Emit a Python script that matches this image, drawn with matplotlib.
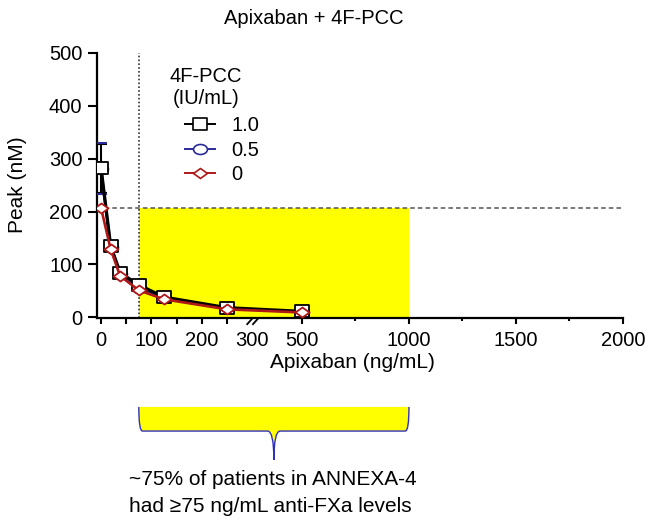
import numpy as np
import matplotlib
matplotlib.use("Agg")
import matplotlib.pyplot as plt
from matplotlib.path import Path
from matplotlib.patches import PathPatch
from matplotlib.lines import Line2D
from matplotlib.transforms import Affine2D

plt.rcParams['font.family'] = ['Liberation Sans', 'DejaVu Sans']

# data
apixaban = [0, 19, 38, 75, 125, 250, 500]
peak_pcc10 = [282, 135, 84, 61, 38, 18, 11]
peak_pcc05 = [281, 133, 82, 55, 36, 17, 10]
peak_pcc0 = [207, 129, 78, 51, 34, 15, 9]
sd_pcc10 = [46]
sd_pcc05 = [48]

pcc_labels = ['1.0', '0.5', '0']
threshold_peak = 206
annexa_low, annexa_high = 75, 1000

xtick_pos = [0, 50, 100, 150, 200, 250, 300, 500, 1000, 1500, 2000]
xtick_lab = ['0', '', '100', '', '200', '', '300', '500', '1000', '1500', '2000']
xtick_minor = [750, 1250, 1750]
ytick_pos = [0, 100, 200, 300, 400, 500]

# broken x axis: 0-300 linear, then compressed 300-2000 after a small gap
BREAK, GAP, K = 300.0, 14.0, 0.425

def fwd(x):
    x = np.asarray(x, dtype=float)
    return np.where(x <= BREAK, x, BREAK + GAP + (x - BREAK) * K)

def inv(y):
    y = np.asarray(y, dtype=float)
    return np.where(y <= BREAK, y,
                    np.where(y < BREAK + GAP, BREAK, BREAK + (y - BREAK - GAP) / K))

XMIN, XMAX = -8, 2000

fig = plt.figure(figsize=(6.49, 5.25), dpi=100)
ax = fig.add_axes([97 / 649, 1 - 318.3 / 525, 526 / 649, 265.3 / 525])
ax.set_xscale('function', functions=(fwd, inv))
ax.set_xlim(XMIN, XMAX)
ax.set_ylim(-2, 500)

red = '#B01818'
blue = '#2A2A9A'

sq = Path([(-1, -0.85), (1, -0.85), (1, 0.85), (-1, 0.85), (-1, -0.85)],
          [Path.MOVETO, Path.LINETO, Path.LINETO, Path.LINETO, Path.CLOSEPOLY])
dia = Path([(-1, 0), (0, 0.72), (1, 0), (0, -0.72), (-1, 0)],
           [Path.MOVETO, Path.LINETO, Path.LINETO, Path.LINETO, Path.CLOSEPOLY])
ell = Path.unit_circle().transformed(Affine2D().scale(1, 0.72))

# threshold region
ax.fill_between([annexa_low, annexa_high], 0, threshold_peak, color='#FFFF00',
                lw=0, zorder=0.5)
ax.axhline(threshold_peak, color='#555555', lw=1.1, ls=(0, (3, 2)), zorder=1)
ax.axvline(annexa_low, color='#333333', lw=1.2, ls=(0, (1, 1.3)), zorder=1)

# series
ax.plot(apixaban, peak_pcc05, color=blue, lw=1.8, marker=ell, ms=10,
        mfc='white', mec=blue, mew=1.2, zorder=2)
ax.errorbar(apixaban[:1], peak_pcc10[:1], yerr=sd_pcc10, fmt='none',
            ecolor='black', elinewidth=1.5, capsize=4.5, capthick=1.5, zorder=2.5)
eb05 = ax.errorbar(apixaban[:1], peak_pcc05[:1], yerr=sd_pcc05, fmt='none',
                   ecolor=blue, elinewidth=1.2, capsize=4.5, capthick=1.5,
                   zorder=2.4)
for cl in eb05[1]:
    cl.set_zorder(2.7)
ax.plot(apixaban, peak_pcc10, color='black', lw=2.4, marker=sq, ms=10,
        mfc='white', mec='black', mew=1.3, zorder=3)
ax.plot(apixaban, peak_pcc0, color=red, lw=1.9, marker=dia, ms=10,
        mfc='white', mec=red, mew=1.3, zorder=4)

# axes styling
for s in ['top', 'right']:
    ax.spines[s].set_visible(False)
for s in ['left', 'bottom']:
    ax.spines[s].set_linewidth(1.6)
ax.set_xticks(xtick_pos)
ax.set_xticklabels(xtick_lab)
ax.set_xticks(xtick_minor, minor=True)
ax.set_yticks(ytick_pos)
ax.tick_params(axis='x', which='major', length=4, width=1.5, labelsize=14.5, pad=5)
ax.tick_params(axis='x', which='minor', length=2.5, width=1.5)
ax.tick_params(axis='y', which='major', length=6.5, width=1.5, labelsize=14.5, pad=4)
ax.xaxis.get_major_ticks()[6].tick1line.set_visible(False)

def xfrac(x):
    return float((fwd(x) - fwd(XMIN)) / (fwd(XMAX) - fwd(XMIN)))

# break marks on the x axis
bx = xfrac(BREAK) + 0.5 * GAP / (fwd(XMAX) - fwd(XMIN))
for dx in (-0.011, 0.0):
    ax.plot([bx + dx - 0.005, bx + dx + 0.005], [-0.022, 0.0],
            transform=ax.transAxes, color='black', lw=1.3, clip_on=False)

# legend
fig.text(206 / 649, 1 - 76 / 525, '4F-PCC', ha='center', va='center', fontsize=14.5)
fig.text(206 / 649, 1 - 99 / 525, '(IU/mL)', ha='center', va='center', fontsize=14.5)
handles = [Line2D([], [], color='black', lw=1.4, marker=sq, ms=10, mfc='white',
                  mec='black', mew=1.2),
           Line2D([], [], color=blue, lw=1.4, marker=ell, ms=10, mfc='white',
                  mec=blue, mew=1.2),
           Line2D([], [], color=red, lw=1.4, marker=dia, ms=10, mfc='white',
                  mec=red, mew=1.2)]
ax.legend(handles, pcc_labels, loc='upper left',
          bbox_to_anchor=(185 / 649, 1 - 116 / 525), bbox_transform=fig.transFigure,
          frameon=False, fontsize=14.5, handlelength=1.5, handletextpad=0.8,
          labelspacing=0.28, borderpad=0, borderaxespad=0)

# labels and title
fig.text(314 / 649, 1 - 18 / 525, 'Apixaban + 4F-PCC', ha='center', va='center',
         fontsize=14.5)
fig.text(352 / 649, 1 - 363 / 525, 'Apixaban (ng/mL)', ha='center', va='center',
         fontsize=15)
fig.text(18 / 649, 1 - 185 / 525, 'Peak (nM)', ha='center', va='center',
         rotation=90, fontsize=15)

# brace under the ANNEXA-4 range
L, R = xfrac(annexa_low), xfrac(annexa_high)
C = 0.5 * (L + R)
top, bot, tip = -0.334, -0.425, -0.534
r, n = 0.007, 0.012
verts = [(L, top), (L, bot), (L + r, bot), (C - n, bot), (C, bot), (C, tip),
         (C, bot), (C + n, bot), (R - r, bot), (R, bot), (R, top)]
codes = [Path.MOVETO, Path.CURVE3, Path.CURVE3, Path.LINETO, Path.CURVE3,
         Path.CURVE3, Path.CURVE3, Path.CURVE3, Path.LINETO, Path.CURVE3,
         Path.CURVE3]
ax.add_patch(PathPatch(Path(verts + [(L, top)], codes + [Path.LINETO]),
                       transform=ax.transAxes, facecolor='#FFFF00', lw=0,
                       clip_on=False))
ax.add_patch(PathPatch(Path(verts, codes), transform=ax.transAxes,
                       facecolor='none', edgecolor='#3030C0', lw=1.0,
                       clip_on=False))

fig.text(129 / 649, 1 - 485 / 525, '~75% of patients in ANNEXA-4',
         ha='left', va='baseline', fontsize=15)
fig.text(129 / 649, 1 - 512 / 525, 'had \u226575 ng/mL anti-FXa levels',
         ha='left', va='baseline', fontsize=15)

fig.savefig('out.png', dpi=100)
